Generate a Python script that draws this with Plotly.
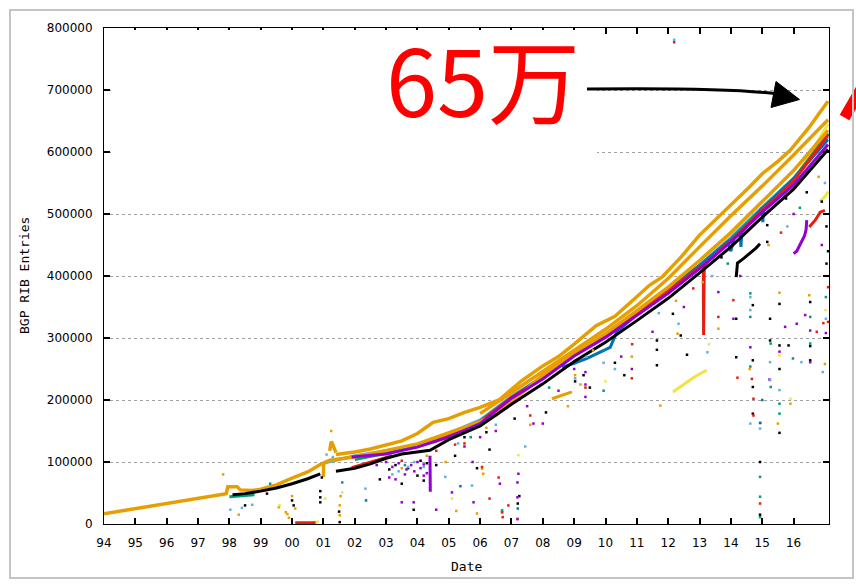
import plotly.graph_objects as go

# ---------------- colours (gnuplot default palette) ----------------
ORANGE = '#E69F00'
BLACK = '#000000'
RED = '#E51E10'
PURPLE = '#9400D3'
GREEN = '#009E73'
SKY = '#56B4E9'
YELLOW = '#F0E442'
BLUE = '#0072B2'

# ---------------- axis ticks ----------------
year_ticks = list(range(1994, 2017))
year_labels = ['94', '95', '96', '97', '98', '99', '00', '01', '02', '03', '04', '05',
               '06', '07', '08', '09', '10', '11', '12', '13', '14', '15', '16']
y_ticks = [0, 100000, 200000, 300000, 400000, 500000, 600000, 700000, 800000]

# ---------------- line series (decimal year, BGP RIB entries) ----------------
orange_old_t = [1994.0, 1994.5, 1995.0, 1995.5, 1996.0, 1996.5, 1997.0, 1997.5, 1997.9, 1997.95,
                1998.25, 1998.35, 1998.7, 1999.0, 1999.5, 2000.0, 2000.5, 2000.9, 2001.2, 2001.5,
                2002.0, 2002.5, 2003.0, 2003.5, 2004.0, 2004.5, 2005.0, 2005.5, 2006.0, 2006.5,
                2007.0, 2007.5, 2008.0, 2009.0, 2010.0, 2011.0, 2012.0, 2013.0, 2014.0, 2015.0,
                2016.0, 2017.1]
orange_old_v = [16500, 20500, 24500, 28500, 32500, 36500, 40500, 45000, 49000, 60000,
                60000, 55000, 54000, 56000, 63000, 74000, 84000, 96000, 103000, 105000,
                108000, 113000, 119000, 124000, 129000, 138000, 148000, 156000, 165000, 176000,
                198000, 218000, 240000, 276000, 307000, 344000, 382000, 425000, 470000, 520000,
                570000, 635000]

orange_spike_t = [2001.0, 2001.01, None, 2001.2, 2001.25, 2001.3, 2001.35, 2001.4]
orange_spike_v = [76000, 100000, None, 118000, 133000, 128000, 120000, 115000]

orange_top_t = [2001.4, 2002.0, 2002.5, 2003.0, 2003.5, 2004.0, 2004.5, 2005.0, 2005.5, 2006.0,
                2006.6, 2007.3, 2008.0, 2008.5, 2009.0, 2009.7, 2010.3, 2010.9, 2011.4, 2011.8,
                2012.4, 2013.0, 2013.5, 2014.0, 2014.6, 2015.0, 2015.5, 2015.9, 2016.5, 2016.9,
                2017.1]
orange_top_v = [112000, 116000, 121000, 127000, 134000, 146000, 164000, 170000, 180000, 188000,
                200000, 230000, 255000, 270000, 290000, 320000, 335000, 362000, 385000, 398000,
                430000, 466000, 490000, 515000, 544000, 565000, 585000, 603000, 640000, 668000,
                682000]

orange_mid_t = [2006.0, 2007.0, 2008.0, 2009.0, 2010.0, 2011.0, 2012.0, 2013.0, 2014.0, 2015.0,
                2016.0, 2017.1]
orange_mid_v = [178000, 212000, 246000, 281000, 314000, 352000, 396000, 447000, 497000, 545000,
                595000, 652000]

orange_seg_t = [2008.29, 2008.6, 2008.93]
orange_seg_v = [202000, 207000, 213000]

black_t = [1998.1, 1998.5, 1999.0, 1999.5, 2000.0, 2000.5, 2000.9, None,
           2001.4, 2002.0, 2002.5, 2003.0, 2003.5, 2004.0, 2004.4, 2005.0, 2006.0, 2007.0,
           2008.0, 2009.0, 2010.0, 2011.0, 2012.0, 2013.0, 2014.0, 2015.0, 2016.0, 2017.1]
black_v = [47000, 49000, 53000, 58000, 65000, 73000, 81000, None,
           85000, 90000, 97000, 106000, 113000, 116000, 119000, 136000, 158000, 193000,
           226000, 262000, 293000, 328000, 364000, 405000, 447000, 495000, 540000, 604000]

black_seg_t = [2014.17, 2014.21, 2014.4, 2014.6, 2014.8, 2014.93]
black_seg_v = [398000, 421000, 428000, 436000, 445000, 452000]

red_t = [2000.1, 2000.75, None, 2001.9, 2002.5, 2003.2, None,
         2004.5, 2005.0, 2006.0, 2007.0, 2008.0, 2009.0, 2010.0, 2011.0, 2012.0, 2013.0,
         2013.12, 2013.13, 2013.15, 2014.0, 2015.0, 2016.0, 2017.1]
red_v = [2000, 2000, None, 91000, 100000, 110000, None,
         132000, 142000, 165000, 204000, 236000, 273000, 304000, 340000, 376000, 414000,
         418000, 305000, 418000, 457000, 506000, 553000, 628000]

red_seg_t = [2016.5, 2016.69, 2016.85, 2017.0]
red_seg_v = [479000, 490000, 503000, 506000]

purple_t = [2001.9, 2003.0, 2004.0, 2005.0, 2006.0, 2007.0, 2008.0, 2009.0, 2010.0, 2011.0,
            2012.0, 2013.0, 2014.0, 2015.0, 2016.0, 2017.1]
purple_v = [108000, 113000, 124000, 140000, 162000, 203000, 234000, 271000, 301000, 336000,
            372000, 412000, 455000, 503000, 547000, 612000]

purple_drop_t = [2004.4, 2004.41]
purple_drop_v = [110000, 52000]

purple_seg_t = [2016.0, 2016.1, 2016.2, 2016.35, 2016.4, 2016.42]
purple_seg_v = [436000, 440000, 450000, 465000, 475000, 490000]

sky_t = [2001.0, 2002.0, 2003.0, 2004.0, 2005.0, 2006.0, 2007.0, 2008.0, 2009.0, 2010.0,
         2011.0, 2012.0, 2013.0, 2014.0, 2015.0, 2016.0, 2017.1]
sky_v = [98000, 110000, 118000, 128000, 146000, 168000, 206000, 238000, 276000, 306000,
         342000, 378000, 418000, 462000, 511000, 558000, 624000]

green_t = [1998.0, 1998.8, None, 2002.0, 2003.0, 2004.0, 2005.0, 2006.0, 2007.0, 2008.0,
           2009.0, 2010.0, 2011.0, 2012.0, 2013.0, 2014.0, 2015.0, 2016.0, 2017.1]
green_v = [44000, 47000, None, 104000, 114000, 126000, 144000, 166000, 204000, 237000,
           274000, 305000, 340000, 376000, 416000, 460000, 509000, 556000, 630000]

yellow_t = [2000.65, 2000.85, None, 2005.0, 2006.0, 2007.0, 2008.0, 2009.0, 2010.0, 2011.0,
            2012.0, 2013.0, 2014.0, 2015.0, 2016.0, 2017.1]
yellow_v = [2500, 3500, None, 143000, 165000, 203000, 236000, 273000, 304000, 339000,
            375000, 414000, 458000, 507000, 553000, 645000]

yellow_seg_t = [2012.15, 2012.5, 2012.8, 2013.0, 2013.23, None, 2016.85, 2017.0, 2017.11]
yellow_seg_v = [213000, 226000, 236000, 242000, 248000, None, 520000, 528000, 536000]

blue_t = [2008.61, 2009.0, 2009.41, 2009.8, 2010.15, 2010.36, 2011.0, 2012.0, 2013.0, 2013.9,
          2014.0, 2014.1, 2014.3, 2014.32, 2014.35, 2015.0, 2015.02, 2015.05, 2016.0, 2017.1]
blue_v = [253000, 259000, 267000, 276000, 285000, 310000, 338000, 377000, 417000, 455000,
          440000, 462000, 468000, 447000, 470000, 510000, 487000, 511000, 557000, 620000]

# ---------------- scattered points ----------------
black_dot_t = [1998.5, 1999.2, 2000.0, 2000.05, 2000.9, 2000.9, 2000.9, 2000.95, 2001.52, 2001.5,
               2002.8, 2003.5, 2003.88, 2004.0, 2004.2, 2004.6, 2005.2, 2005.9, 2006.3, 2007.2,
               2007.25, 2008.1, 2009.03, 2009.5, 2010.3, 2010.6, 2011.64, 2011.64, 2011.64, 2012.15,
               2012.4, 2012.6, 2014.17, 2014.17, 2014.7, 2014.7, 2014.7, 2014.7, 2014.93, 2014.93,
               2015.16, 2015.16, 2015.25, 2015.25, 2015.55, 2015.55, 2015.55, 2015.55, 2015.76, 2015.84,
               2016.42, 2016.53, 2016.53, 2016.53, 2017.05, 2017.05,
               2003.1, 2003.3, 2003.7, 2004.1, 2004.3, 2005.5, 2006.2, 2007.1, 2009.3, 2013.7,
               2016.9, 2017.1]
black_dot_v = [30000, 49000, 38000, 30000, 53000, 43000, 35000, 75000, 3000, 20000,
               72000, 65000, 23000, 78000, 70000, 95000, 110000, 90000, 120000, 33000,
               45000, 180000, 230000, 220000, 260000, 240000, 296000, 281000, 256000, 339000,
               304000, 273000, 269000, 331000, 353000, 264000, 221000, 178000, 15000, 100000,
               482000, 455000, 331000, 296000, 355000, 288000, 250000, 147000, 525000, 288000,
               535000, 358000, 287000, 264000, 480000, 420000,
               88000, 95000, 90000, 102000, 98000, 140000, 148000, 170000, 240000, 430000,
               520000, 440000]

orange_dot_t = [1997.8, 1998.3, 1999.58, 1999.8, 1999.85, 1999.9, 2000.0, 2000.1, 2001.25, 2001.52,
                2001.52, 2001.55, 2004.9, 2005.24, 2005.9, 2006.06, 2006.1, 2006.7, 2007.2, 2007.6,
                2008.8, 2009.03, 2009.2, 2010.84, 2011.75, 2012.3, 2013.6, 2014.6, 2014.95, 2015.5,
                2015.55, 2015.9, 2016.5, 2017.0, 2012.25, 2013.1,
                2003.5, 2004.3, 2006.2, 2009.6, 2015.2, 2016.8]
orange_dot_v = [80000, 15000, 27000, 19000, 16000, 10000, 45000, 25000, 150000, 30000,
                14000, 45000, 100000, 21000, 17000, 89000, 81000, 19000, 8000, 160000,
                190000, 240000, 225000, 270000, 191000, 307000, 315000, 250000, 163000, 162000,
                373000, 194000, 369000, 258000, 360000, 390000,
                90000, 110000, 155000, 280000, 450000, 560000]

red_dot_t = [2004.6, 2005.5, 2006.06, 2006.3, 2006.59, 2006.7, 2006.72, 2006.9, 2007.6, 2009.36,
             2010.84, 2010.85, 2013.6, 2014.08, 2014.21, 2014.67, 2014.72, 2014.72, 2014.93, 2016.74,
             2016.95, 2017.1, 2017.1, 2012.19,
             2003.5, 2005.2, 2012.8, 2015.6]
red_dot_v = [118000, 130000, 92000, 41000, 75000, 19000, 11000, 30000, 175000, 220000,
             235000, 290000, 334000, 361000, 236000, 234000, 175000, 202000, 33000, 310000,
             324000, 326000, 382000, 777000,
             102000, 128000, 380000, 470000]

purple_dot_t = [2002.7, 2003.3, 2003.5, 2003.6, 2003.88, 2003.9, 2004.1, 2004.2, 2004.6, 2005.1,
                2005.76, 2005.79, 2006.63, 2007.19, 2007.19, 2007.19, 2007.22, 2007.7, 2008.0, 2009.36,
                2009.36, 2009.36, 2010.84, 2013.6, 2014.08, 2014.62, 2015.23, 2015.55, 2015.73, 2016.1,
                2016.37, 2016.53, 2016.53, 2017.03,
                2003.0, 2003.2, 2003.4, 2003.65, 2003.8, 2004.0, 2004.2, 2003.1, 2004.3, 2005.5,
                2006.0, 2006.5, 2007.5, 2008.5, 2009.0, 2010.5, 2011.5, 2012.5, 2014.3, 2016.0,
                2016.9]
purple_dot_v = [95000, 72000, 35000, 80000, 35000, 85000, 90000, 78000, 23000, 51000,
                100000, 35000, 65000, 67000, 43000, 8000, 81000, 162000, 162000, 245000,
                225000, 205000, 250000, 374000, 331000, 285000, 233000, 278000, 318000, 323000,
                337000, 312000, 261000, 308000,
                100000, 92000, 98000, 88000, 95000, 100000, 96000, 75000, 82000, 125000,
                140000, 150000, 190000, 215000, 250000, 270000, 310000, 350000, 400000, 500000,
                450000]

sky_dot_t = [1998.03, 1998.4, 1998.73, 2001.1, 2001.3, 2002.34, 2003.2, 2003.7, 2004.89, 2005.74,
             2007.44, 2009.03, 2009.94, 2010.3, 2012.33, 2013.25, 2014.62, 2014.62, 2014.62, 2014.93,
             2015.25, 2015.25, 2015.55, 2016.25, 2016.93, 2017.03, 2012.19,
             2003.4, 2003.9, 2004.2, 2005.3, 2006.5, 2009.4, 2011.7, 2013.4, 2015.8, 2017.0]
sky_dot_v = [23000, 26000, 31000, 112000, 108000, 57000, 80000, 92000, 76000, 62000,
             125000, 235000, 260000, 250000, 323000, 277000, 366000, 345000, 162000, 154000,
             261000, 232000, 216000, 261000, 245000, 331000, 781000,
             85000, 100000, 92000, 130000, 160000, 270000, 340000, 400000, 480000, 550000]

green_dot_t = [1999.3, 2001.6, 2006.7, 2009.94, 2009.94, 2014.62, 2014.62, 2014.62, 2014.93, 2014.93,
               2014.93, 2015.27, 2015.27, 2015.55, 2015.55, 2015.98, 2016.53, 2016.53, 2017.03,
               2003.6, 2005.7, 2008.2, 2013.9, 2016.2]
green_dot_v = [65000, 67000, 22000, 280000, 215000, 372000, 334000, 254000, 76000, 44000,
               11000, 291000, 221000, 194000, 178000, 267000, 334000, 291000, 366000,
               95000, 140000, 220000, 420000, 510000]

yellow_dot_t = [1999.6, 2001.05, 2001.6, 2003.03, 2005.1, 2007.22, 2010.0, 2013.3, 2015.55, 2015.9,
                2017.02]
yellow_dot_v = [30000, 41000, 51000, 6000, 41000, 111000, 230000, 290000, 272000, 202000,
                345000]

blue_dot_t = [2002.36, 2005.37, 2007.2, 2014.93, 2015.0]
blue_dot_v = [38000, 61000, 25000, 163000, 200000]

line_series = [
    (yellow_t, yellow_v, YELLOW, 3), (sky_t, sky_v, SKY, 3), (green_t, green_v, GREEN, 3),
    (blue_t, blue_v, BLUE, 3), (red_t, red_v, RED, 3), (orange_old_t, orange_old_v, ORANGE, 3.5),
    (orange_spike_t, orange_spike_v, ORANGE, 3.5), (orange_mid_t, orange_mid_v, ORANGE, 3.5),
    (orange_top_t, orange_top_v, ORANGE, 3.5), (orange_seg_t, orange_seg_v, ORANGE, 3),
    (purple_t, purple_v, PURPLE, 3), (purple_drop_t, purple_drop_v, PURPLE, 3),
    (purple_seg_t, purple_seg_v, PURPLE, 3), (black_t, black_v, BLACK, 3),
    (black_seg_t, black_seg_v, BLACK, 3), (red_seg_t, red_seg_v, RED, 3),
    (yellow_seg_t, yellow_seg_v, YELLOW, 3),
]
dot_series = [
    (black_dot_t, black_dot_v, BLACK), (orange_dot_t, orange_dot_v, ORANGE),
    (red_dot_t, red_dot_v, RED), (purple_dot_t, purple_dot_v, PURPLE),
    (sky_dot_t, sky_dot_v, SKY), (green_dot_t, green_dot_v, GREEN),
    (yellow_dot_t, yellow_dot_v, YELLOW), (blue_dot_t, blue_dot_v, BLUE),
]

fig = go.Figure()
for t, v, c, w in line_series:
    fig.add_trace(go.Scatter(x=t, y=v, mode='lines', line=dict(color=c, width=w),
                             connectgaps=False, hoverinfo='skip', showlegend=False))
for t, v, c in dot_series:
    fig.add_trace(go.Scatter(x=t, y=v, mode='markers',
                             marker=dict(color=c, size=2.5, symbol='square', line=dict(width=0)),
                             hoverinfo='skip', showlegend=False))

# ---------------- layout ----------------
W, H = 856, 584
L, R, T, B = 104, 829, 28, 524


def px(x):
    return (x - L) / (R - L)


def py(y):
    return (B - y) / (B - T)


tickfont = dict(family='DejaVu Sans', size=12, color='black')
fig.update_layout(
    width=W, height=H,
    margin=dict(l=L, r=W - R, t=T, b=H - B),
    paper_bgcolor='white', plot_bgcolor='white',
    xaxis=dict(range=[1994.0, 2017.13], tickmode='array', tickvals=year_ticks, ticktext=year_labels,
               ticks='inside', ticklen=6, tickwidth=1.5, tickcolor='black', mirror='ticks',
               showline=True, linecolor='black', linewidth=1, showgrid=False, zeroline=False,
               tickfont=tickfont, ticklabelstandoff=8),
    yaxis=dict(range=[0, 800000], tickmode='array', tickvals=y_ticks,
               ticktext=[str(v) for v in y_ticks],
               ticks='inside', ticklen=6, tickwidth=1.5, tickcolor='black', mirror='ticks',
               showline=True, linecolor='black', linewidth=1, showgrid=True,
               gridcolor='#a0a0a0', gridwidth=1, griddash='3px,3px', zeroline=False,
               tickfont=tickfont, ticklabelstandoff=8),
)

shapes = [
    # white panel behind the callout text
    dict(type='rect', xref='paper', yref='paper', x0=px(111), x1=px(597), y0=py(30), y1=py(160),
         fillcolor='white', line=dict(width=0), layer='above'),
    # arrow shaft
    dict(type='path', xref='paper', yref='paper',
         path=f'M {px(587)},{py(89)} C {px(680)},{py(88)} {px(740)},{py(89)} {px(778)},{py(94)}',
         line=dict(color='black', width=3), layer='above'),
    # arrow head
    dict(type='path', xref='paper', yref='paper',
         path=f'M {px(799.5)},{py(99.5)} L {px(776)},{py(81.5)} L {px(771)},{py(107.5)} Z',
         fillcolor='black', line=dict(color='black', width=1), layer='above'),
    # red stroke at the right edge
    dict(type='line', xref='paper', yref='paper', x0=px(844.5), y0=py(117.5), x1=px(862), y1=py(87.5),
         line=dict(color='#FF0000', width=11), layer='above'),
    # outer frame
    dict(type='rect', xref='paper', yref='paper', x0=px(10), x1=px(853), y0=py(578), y1=py(10),
         line=dict(color='#c4c4c4', width=2), fillcolor='rgba(0,0,0,0)', layer='above'),
]
fig.update_layout(shapes=shapes)

fig.add_annotation(text='65万', xref='paper', yref='paper', x=px(483), y=py(77),
                   xanchor='center', yanchor='middle', showarrow=False,
                   font=dict(family='Noto Sans CJK JP', size=92, color='#FF0000'))
fig.add_annotation(text='BGP RIB Entries', xref='paper', yref='paper', x=px(24), y=0.5,
                   xanchor='center', yanchor='middle', textangle=-90, showarrow=False,
                   font=dict(family='DejaVu Sans Mono', size=13, color='black'))
fig.add_annotation(text='Date', xref='paper', yref='paper', x=0.5, y=py(566),
                   xanchor='center', yanchor='middle', showarrow=False,
                   font=dict(family='DejaVu Sans Mono', size=13, color='black'))

fig.write_html('out.html', config={'displayModeBar': False},
               post_script="document.body.style.margin='0px';"
               "document.body.style.overflow='hidden';")
